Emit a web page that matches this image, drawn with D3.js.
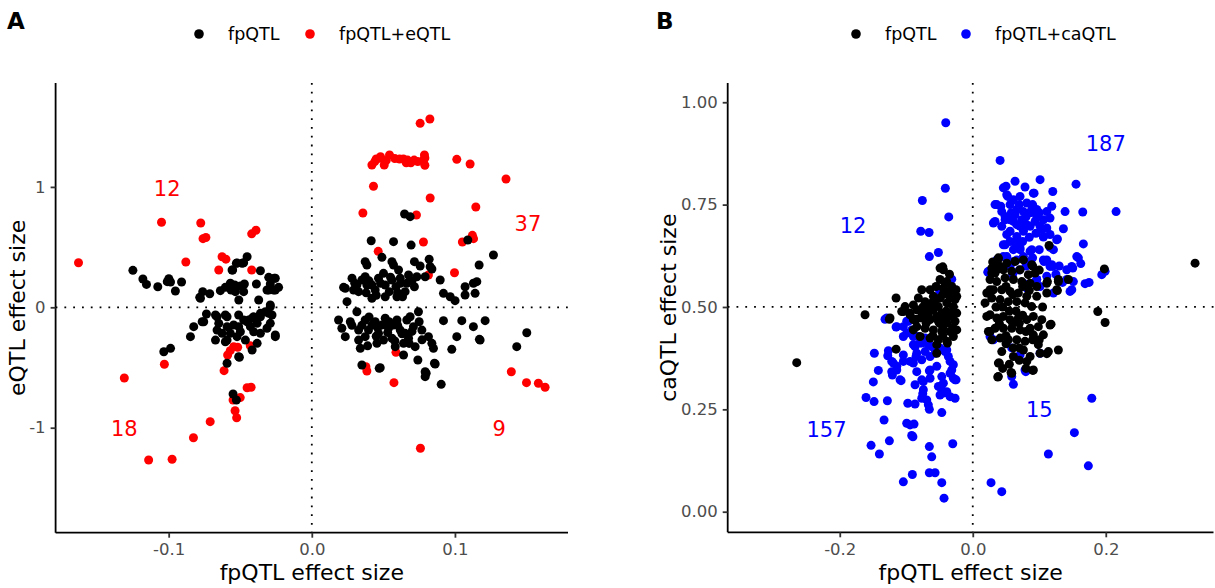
<!DOCTYPE html>
<html><head><meta charset="utf-8">
<script src="https://cdn.jsdelivr.net/npm/d3@7"></script>
<style>body{margin:0;background:#fff;font-family:"DejaVu Sans",sans-serif;}</style>
</head><body><svg id="c" width="1215" height="588"></svg>
<script>
// ---------- DATA ----------
const aTicksX = [-0.1, 0.0, 0.1];
const aTicksY = [-1, 0, 1];
const bTicksX = [-0.2, 0.0, 0.2];
const bTicksY = [0.00, 0.25, 0.50, 0.75, 1.00];

const aLegend = ["fpQTL", "fpQTL+eQTL"];
const bLegend = ["fpQTL", "fpQTL+caQTL"];

const aCounts = [["12",-0.101,0.99],["37",0.151,0.7],["18",-0.131,-1.01],["9",0.131,-1.01]];
const bCounts = [["12",-0.18,0.7],["187",0.2,0.9],["157",-0.22,0.2],["15",0.1,0.25]];

// panel A: fpQTL+eQTL (red)
const aRed = [
[-0.163,0.37],[-0.105,0.706],[-0.0776,0.70],[-0.076,0.57],[-0.074,0.58],[-0.088,0.376],[-0.0627,0.42],[-0.06,0.40],[-0.065,0.31],[-0.042,0.61],[-0.039,0.64],[-0.042,0.31],
[-0.131,-0.587],[-0.103,-0.473],[-0.114,-1.268],[-0.0976,-1.262],[-0.0827,-1.083],[-0.071,-0.95],[-0.0613,-0.526],[-0.0588,-0.396],[-0.0546,-0.327],[-0.0518,-0.332],[-0.043,-0.319],[-0.0536,-0.859],[-0.0525,-0.917],[-0.0452,-0.668],[-0.0424,-0.664],[-0.055,-0.77],[-0.057,-0.36],[-0.05,-0.75],
[0.0757,1.528],[0.0825,1.564],[0.042,1.182],[0.045,1.232],[0.0478,1.237],[0.0506,1.182],[0.0543,1.265],[0.0613,1.232],[0.064,1.232],[0.0669,1.223],[0.0692,1.20],[0.0715,1.223],[0.078,1.223],[0.0787,1.265],[0.1013,1.229],[0.1106,1.19],[0.1357,1.066],[0.0431,1.005],[0.0827,0.908],[0.1146,0.833],[0.0357,0.783],[0.0731,0.767],[0.078,0.542],[0.1052,0.542],[0.1122,0.598],[0.0464,0.465],[0.0997,0.287],[0.0815,0.268],[0.044,1.21],[0.058,1.235],[0.066,1.20],[0.074,1.21],[0.079,1.24],[0.052,1.22],[0.113,0.57],[0.079,1.18],[0.048,1.25],
[0.0588,-0.374],[0.0378,-0.493],[0.0385,-0.529],[0.0574,-0.626],[0.0759,-1.171],[0.1394,-0.535],[0.150,-0.626],[0.1583,-0.631],[0.163,-0.664]
];

// panel A: fpQTL only (black)
const aBlack = [
[-0.125,0.307],[-0.118,0.235],[-0.1155,0.19],[-0.1076,0.171],[-0.0999,0.238],[-0.0987,0.21],[-0.0953,0.135],[-0.091,0.21],[-0.0778,0.075],[-0.0762,0.13],[-0.0713,0.113],[-0.0639,0.138],[-0.0604,0.166],[-0.0564,0.144],[-0.0539,0.185],[-0.0499,0.177],[-0.0471,0.194],[-0.0476,0.13],[-0.051,0.061],[-0.0553,0.31],[-0.0522,0.368],[-0.0452,0.42],[-0.0476,0.37],[-0.0359,0.304],[-0.0301,0.249],[-0.0262,0.241],[-0.029,0.194],[-0.0232,0.166],[-0.0267,0.144],[-0.0313,0.144],[-0.0371,0.061],[-0.0387,0.194],[-0.029,0.005],[-0.0301,-0.05],[-0.0359,-0.05],[-0.0406,-0.078],[-0.0441,-0.105],[-0.0511,-0.064],[-0.0592,-0.078],[-0.0662,-0.078],[-0.0755,-0.12],[-0.0825,-0.161],
[-0.0736,-0.056],[-0.0766,-0.12],[-0.0848,-0.244],[-0.0673,-0.064],[-0.065,-0.133],[-0.0662,-0.189],[-0.0673,-0.272],[-0.0604,-0.064],[-0.0592,-0.161],[-0.0569,-0.216],[-0.0604,-0.286],[-0.0511,-0.161],[-0.0522,-0.244],[-0.0464,-0.272],[-0.0429,-0.161],[-0.0417,-0.091],[-0.0359,-0.078],[-0.0324,-0.037],[-0.0278,-0.064],[-0.029,-0.133],[-0.0313,-0.174],[-0.0359,-0.216],[-0.0255,-0.244],[-0.0382,-0.299],[-0.0417,-0.355],[-0.0511,-0.41],[-0.0592,-0.465],[-0.0476,-0.105],[-0.0546,-0.147],[-0.0627,-0.216],[-0.0499,-0.203],[-0.0406,-0.203],[-0.0382,-0.133],[-0.0452,-0.12],[-0.0592,-0.272],[-0.1034,-0.369],[-0.0987,-0.341],[-0.055,-0.72],[-0.0527,-0.77],[-0.0506,-0.415],[-0.0255,-0.23],[-0.0569,0.2],[-0.0534,0.13],[-0.0301,0.144],[-0.0255,0.144],[-0.0255,0.241],[-0.0487,0.365],[-0.0527,0.365],[-0.0557,0.31],[-0.029,0.019],[-0.0783,0.083],[-0.101,0.213],
[0.0415,0.553],[0.0571,0.545],[0.0694,0.517],[0.0373,0.379],[0.0385,0.351],[0.049,0.415],[0.056,0.379],[0.0571,0.351],[0.0606,0.31],[0.0717,0.379],[0.0757,0.343],[0.082,0.399],[0.0827,0.337],[0.109,0.559],[0.1269,0.434],[0.1169,0.351],[0.0897,0.227],[0.092,0.116],[0.0967,0.088],[0.1001,0.055],[0.1071,0.171],[0.1129,0.2],[0.1153,0.213],[0.1071,0.102],[0.1141,0.116],[0.0234,0.158],[0.0246,0.047],[0.0281,0.241],[0.0315,0.185],[0.0327,0.13],[0.035,0.227],[0.0385,0.185],[0.042,0.075],[0.0443,0.144],[0.0466,0.241],[0.0501,0.282],[0.0513,0.185],[0.0541,0.13],[0.056,0.227],[0.0588,0.171],[0.0618,0.241],[0.0634,0.088],[0.0664,0.2],[0.0676,0.268],[0.0717,0.171],[0.0734,0.254],[0.0373,0.254],[0.0292,0.144],[0.0595,0.088],[0.0513,0.088],[0.0652,0.13],[0.042,0.185],[0.0792,0.254],[0.0648,0.775],[0.0687,0.753],[0.0839,0.318],[0.0222,0.166],
[0.03,0.2],[0.04,0.22],[0.048,0.2],[0.055,0.25],[0.062,0.2],[0.07,0.22],[0.045,0.1],[0.06,0.12],[0.038,0.12],
[0.0187,-0.105],[0.021,-0.174],[0.0269,-0.12],[0.0315,-0.037],[0.0327,-0.189],[0.0327,-0.272],[0.0339,-0.341],[0.0373,-0.105],[0.0396,-0.189],[0.0443,-0.12],[0.0466,-0.216],[0.0455,-0.299],[0.0513,-0.091],[0.0536,-0.174],[0.056,-0.257],[0.0595,-0.105],[0.0618,-0.189],[0.0641,-0.299],[0.0664,-0.105],[0.0687,-0.078],[0.071,-0.161],[0.0722,-0.327],[0.0745,-0.037],[0.0769,-0.189],[0.0815,-0.244],[0.0839,-0.299],[0.085,-0.341],[0.0641,-0.396],[0.0741,-0.438],[0.0792,-0.535],[0.0792,-0.576],[0.0857,-0.465],[0.0904,-0.64],[0.035,-0.479],[0.0478,-0.502],[0.092,-0.111],[0.1013,-0.244],[0.0978,-0.349],[0.1048,-0.111],[0.1129,-0.161],[0.1211,-0.111],[0.1171,-0.266],[0.0234,-0.244],[0.042,-0.147],[0.049,-0.147],[0.0571,-0.147],[0.0652,-0.216],[0.0501,-0.272],[0.0373,-0.244],[0.0583,-0.327],[0.0676,-0.257],[0.1502,-0.211],[0.1432,-0.327],[0.1176,-0.272],[0.0862,-0.471],[0.0799,-0.548],[0.0471,-0.507],
[0.028,-0.15],[0.035,-0.15],[0.046,-0.17],[0.054,-0.12],[0.06,-0.15],[0.063,-0.22],[0.07,-0.2],[0.075,-0.12],[0.04,-0.08],[0.053,-0.21],[0.045,-0.24],[0.058,-0.28],[0.068,-0.3],[0.077,-0.27],[0.039,-0.32]
];

// panel B: fpQTL+caQTL (blue)
const bBlue = [
[-0.0406,0.95],[-0.0412,0.79],[-0.0758,0.76],[-0.0361,0.72],[-0.0782,0.685],[-0.0657,0.682],[-0.0653,0.623],[-0.0517,0.633],[-0.0316,0.568],[-0.04,0.56],[-0.03,0.53],[-0.05,0.54],
[-0.1319,0.47],[-0.148,0.387],[-0.142,0.345],[-0.1495,0.317],[-0.1605,0.279],[-0.1484,0.269],[-0.1284,0.271],[-0.1334,0.224],[-0.1529,0.162],[-0.1404,0.141],[-0.1254,0.173],[-0.1269,0.393],[-0.1278,0.381],[-0.1218,0.367],[-0.1143,0.355],[-0.1209,0.334],[-0.1078,0.32],[-0.1153,0.451],[-0.1044,0.383],[-0.0977,0.265],[-0.0868,0.263],[-0.0868,0.31],[-0.0993,0.216],[-0.0943,0.212],[-0.0883,0.214],[-0.0918,0.186],[-0.1044,0.073],[-0.0908,0.091],[-0.0653,0.095],[-0.0567,0.095],[-0.0466,0.071],[-0.0432,0.033],[-0.0301,0.166],[-0.0466,0.242],[-0.0752,0.288],[-0.0692,0.273],[-0.0653,0.25],[-0.0743,0.318],[-0.0642,0.326],[-0.0653,0.344],[-0.0442,0.29],[-0.0391,0.293],[-0.0266,0.277],[-0.0292,0.326],[-0.0251,0.322],[-0.0341,0.338],[-0.0341,0.367],[-0.0292,0.359],[-0.0316,0.346],[-0.0517,0.306],[-0.0466,0.298],[-0.0492,0.285],[-0.0853,0.379],[-0.0767,0.371],[-0.0943,0.367],[-0.1044,0.367],[-0.0893,0.408],[-0.0792,0.412],[-0.0668,0.408],[-0.0717,0.391],[-0.0592,0.403],[-0.0517,0.395],[-0.0417,0.391],[-0.0367,0.379],[-0.0993,0.436],[-0.0918,0.444],[-0.1044,0.452],[-0.0993,0.465],[-0.0827,0.428],[-0.0717,0.424],[-0.0653,0.159],[-0.0617,0.134],[-0.1293,0.473],[-0.1143,0.452],[-0.0968,0.465],[-0.1194,0.363],[-0.1218,0.342],[-0.1093,0.322],[-0.1143,0.346],[-0.0842,0.387],[-0.0893,0.363],[-0.0842,0.342],[-0.0767,0.322],[-0.0743,0.298],[-0.0767,0.277],[-0.0668,0.261],[-0.0642,0.346],[-0.0541,0.355],[-0.0466,0.33],[-0.0442,0.314],[-0.0341,0.281],[-0.0266,0.322],[-0.0391,0.395],[-0.0492,0.4],[-0.0567,0.387],[-0.0642,0.379],[-0.0868,0.403],[-0.1044,0.428],[-0.0893,0.428],[-0.0767,0.412],[-0.0617,0.403],[-0.09,0.183],
[0.0411,0.858],[0.0636,0.807],[0.046,0.791],[0.05,0.795],[0.0526,0.77],[0.0786,0.793],[0.0922,0.778],[0.1012,0.811],[0.1203,0.782],[0.1553,0.8],[0.2155,0.733],[0.1388,0.733],[0.1654,0.732],[0.0335,0.75],[0.0421,0.746],[0.031,0.705],[0.0436,0.697],[0.0611,0.762],[0.0711,0.77],[0.0812,0.754],[0.0962,0.738],[0.1113,0.733],[0.1188,0.746],[0.1162,0.717],[0.1062,0.713],[0.0962,0.721],[0.0862,0.73],[0.0761,0.733],[0.0636,0.725],[0.0561,0.713],[0.0662,0.701],[0.0761,0.689],[0.0862,0.697],[0.1012,0.697],[0.1113,0.693],[0.1162,0.677],[0.1062,0.672],[0.0662,0.672],[0.0561,0.685],[0.0486,0.721],[0.0737,0.713],[0.1363,0.691],[0.1273,0.666],[0.1663,0.654],[0.1213,0.64],[0.1188,0.603],[0.1113,0.615],[0.046,0.652],[0.0662,0.664],[0.0711,0.64],[0.0862,0.636],[0.0511,0.623],[0.0611,0.611],[0.1588,0.62],[0.1624,0.606],[0.1504,0.595],[0.1413,0.591],[0.194,0.579],[0.199,0.587],[0.1689,0.557],[0.1749,0.56],[0.1513,0.562],[0.1463,0.538],[0.1413,0.567],[0.0226,0.585],[0.1072,0.611],[0.1113,0.575],[0.1203,0.599],[0.1012,0.55],[0.0962,0.567],
[0.0511,0.774],[0.0911,0.778],[0.0887,0.738],[0.0662,0.738],[0.0561,0.75],[0.0361,0.75],[0.0436,0.733],[0.0335,0.709],[0.0486,0.713],[0.0611,0.709],[0.0711,0.697],[0.0812,0.701],[0.0937,0.709],[0.1262,0.664],[0.1062,0.671],[0.1162,0.646],[0.0887,0.64],[0.0711,0.644],[0.0611,0.64],[0.0486,0.652],[0.0511,0.677],[0.0762,0.685],[0.0361,0.615],[0.0235,0.587],[0.046,0.623],[0.1062,0.615],[0.1162,0.599],[0.1489,0.599],[0.1564,0.623],[0.1489,0.542],[0.1213,0.534],[0.0662,0.615],[0.0761,0.623],[0.0862,0.611],[0.0561,0.599],[0.0761,0.558],[0.0962,0.567],[0.0812,0.546],
[0.07,0.75],[0.08,0.72],[0.09,0.75],[0.1,0.73],[0.058,0.73],[0.075,0.66],[0.095,0.68],[0.085,0.67],[0.065,0.65],[0.056,0.66],[0.105,0.69],[0.09,0.62],[0.1,0.64],[0.08,0.6],[0.07,0.59],[0.06,0.58],[0.13,0.6],[0.125,0.58],[0.135,0.56],
[0.179,0.277],[0.1528,0.193],[0.1137,0.141],[0.1738,0.112],[0.0275,0.071],[0.0436,0.049],[0.0611,0.311],[0.0797,0.342],[0.0711,0.383],[0.026,0.428],[0.031,0.42],[0.0586,0.4],[0.1012,0.387],[0.0586,0.33],[0.0786,0.346]
];

// panel B: fpQTL only (black)
const bBlack = [
[-0.162,0.481],[-0.1244,0.473],[-0.1153,0.522],[-0.1153,0.397],[-0.1068,0.489],[-0.0541,0.387],[-0.0492,0.595],[-0.0451,0.598],[-0.0492,0.567],[-0.0391,0.562],[-0.0316,0.55],[-0.0251,0.542],[-0.0241,0.526],[-0.0341,0.522],[-0.0442,0.546],[-0.0552,0.55],[-0.0642,0.542],[-0.0767,0.542],[-0.0818,0.522],[-0.0717,0.513],[-0.0592,0.526],[-0.0492,0.522],[-0.0391,0.51],[-0.0292,0.501],[-0.0241,0.485],[-0.0341,0.477],[-0.0466,0.485],[-0.0592,0.493],[-0.0692,0.497],[-0.0842,0.493],[-0.0943,0.485],[-0.0893,0.469],[-0.0767,0.473],[-0.0642,0.469],[-0.0517,0.465],[-0.0391,0.461],[-0.0266,0.465],[-0.0241,0.444],[-0.0341,0.44],[-0.0466,0.44],[-0.0592,0.444],[-0.0717,0.448],[-0.0842,0.452],[-0.0893,0.444],[-0.0792,0.428],[-0.0642,0.424],[-0.0517,0.42],[-0.0391,0.416],[-0.0292,0.428],[-0.0541,0.408],[-0.0381,0.412],[-0.0517,0.501],[-0.0617,0.51],[-0.0292,0.534],[-0.0367,0.538],[-0.0417,0.558],[-0.0767,0.485],[-0.0668,0.481],[-0.0541,0.477],[-0.0417,0.473],[-0.0893,0.505],[-0.1018,0.501],[-0.0442,0.591],[-0.0266,0.518],[-0.2647,0.364],[-0.1254,0.47],[-0.1044,0.489],[-0.0943,0.481],
[-0.035,0.58],[-0.045,0.53],[-0.055,0.52],[-0.065,0.5],[-0.075,0.5],[-0.085,0.47],[-0.07,0.46],[-0.045,0.45],[-0.03,0.45],[-0.03,0.49],[-0.04,0.49],[-0.05,0.46],[-0.06,0.43],[-0.045,0.43],
[0.0385,0.617],[0.0511,0.607],[0.0636,0.611],[0.0761,0.615],[0.0887,0.603],[0.0937,0.583],[0.0836,0.579],[0.0711,0.591],[0.0586,0.587],[0.046,0.591],[0.0361,0.591],[0.0286,0.583],[0.026,0.567],[0.0361,0.562],[0.0486,0.571],[0.0611,0.567],[0.0737,0.562],[0.0862,0.558],[0.0962,0.55],[0.1113,0.558],[0.1287,0.562],[0.1438,0.567],[0.1263,0.542],[0.1113,0.534],[0.0962,0.526],[0.0812,0.526],[0.0686,0.534],[0.0561,0.538],[0.0436,0.542],[0.031,0.542],[0.0211,0.534],[0.0286,0.522],[0.0411,0.518],[0.0535,0.513],[0.0662,0.513],[0.0786,0.51],[0.0887,0.501],[0.0185,0.51],[0.026,0.481],[0.0361,0.473],[0.046,0.477],[0.0561,0.469],[0.0686,0.473],[0.0812,0.469],[0.0911,0.477],[0.1038,0.469],[0.1162,0.456],[0.0986,0.452],[0.0862,0.448],[0.0711,0.444],[0.0586,0.448],[0.046,0.448],[0.0335,0.448],[0.0235,0.44],[0.0286,0.42],[0.0411,0.424],[0.0535,0.42],[0.0662,0.42],[0.0786,0.416],[0.0911,0.432],[0.0986,0.408],[0.1062,0.432],[0.0436,0.391],[0.0611,0.4],[0.0761,0.395],[0.0862,0.379],[0.1012,0.387],[0.1137,0.391],[0.1287,0.395],[0.0385,0.363],[0.0611,0.379],[0.0812,0.367],[0.0911,0.346],[0.0586,0.338],[0.0385,0.33],
[0.1147,0.65],[0.188,0.489],[0.199,0.462],[0.1177,0.458],[0.0902,0.345],[0.0376,0.329],[0.0576,0.34],[0.04,0.363],[0.1113,0.386],[0.0211,0.477],[0.026,0.44],[0.3343,0.607],[0.1979,0.593],[0.1287,0.567],[0.1273,0.54],[0.1122,0.562],[0.0385,0.62],[0.0286,0.595],[0.0335,0.583],[0.026,0.542],
[0.05,0.55],[0.06,0.53],[0.075,0.55],[0.085,0.54],[0.045,0.5],[0.055,0.49],[0.065,0.49],[0.075,0.48],[0.035,0.5],[0.04,0.46],[0.05,0.43],[0.06,0.46],[0.07,0.46],[0.08,0.44],[0.09,0.42],[0.07,0.4],[0.05,0.41],[0.055,0.36],[0.045,0.35],[0.07,0.37],[0.08,0.35],[0.1,0.42],[0.105,0.5],[0.1,0.59],[0.09,0.6],[0.04,0.6],[0.03,0.61]
];

// ---------- DRAW ----------
const svg = d3.select("#c");
svg.append("rect").attr("width",1215).attr("height",588).attr("fill","#fff");
const FONT = "DejaVu Sans";
const hy = f => (d => f(d).replace("\u2212","-"));

function panel(cfg){
  const g = svg.append("g");
  const x = d3.scaleLinear().domain(cfg.xd).range([cfg.left, cfg.right]);
  const y = d3.scaleLinear().domain(cfg.yd).range([cfg.bottom, cfg.top]);
  g.append("line").attr("x1",x(0)).attr("x2",x(0)).attr("y1",cfg.top).attr("y2",cfg.bottom)
    .attr("stroke","#000").attr("stroke-width",1.8).attr("stroke-dasharray","1.8,7");
  g.append("line").attr("x1",cfg.left).attr("x2",cfg.right).attr("y1",y(cfg.href)).attr("y2",y(cfg.href))
    .attr("stroke","#000").attr("stroke-width",1.8).attr("stroke-dasharray","1.8,7");
  g.append("g").selectAll("circle").data(cfg.col).join("circle")
    .attr("cx",d=>x(d[0])).attr("cy",d=>y(d[1])).attr("r",4.5).attr("fill",cfg.color);
  g.append("g").selectAll("circle").data(cfg.blk).join("circle")
    .attr("cx",d=>x(d[0])).attr("cy",d=>y(d[1])).attr("r",4.5).attr("fill","#000");
  const xa = g.append("g").attr("transform",`translate(0,${cfg.bottom})`)
    .call(d3.axisBottom(x).tickValues(cfg.xt).tickSize(5).tickPadding(6).tickFormat(hy(cfg.xf)));
  const ya = g.append("g").attr("transform",`translate(${cfg.left},0)`)
    .call(d3.axisLeft(y).tickValues(cfg.yt).tickSize(5).tickPadding(5).tickFormat(hy(cfg.yf)));
  [xa,ya].forEach(a=>{
    a.select(".domain").attr("stroke","#000").attr("stroke-width",1.8);
    a.selectAll(".tick line").attr("stroke","#333").attr("stroke-width",1.8);
    a.selectAll(".tick text").attr("fill","#4d4d4d").attr("font-family",FONT).attr("font-size",16.5);
  });
  xa.select(".domain").attr("d",`M${cfg.left},0H${cfg.right}`);
  ya.select(".domain").attr("d",`M0,${cfg.bottom}V${cfg.top}`);
  g.append("text").attr("x",(cfg.left+cfg.right)/2).attr("y",580).attr("text-anchor","middle")
    .attr("font-family",FONT).attr("font-size",22).attr("fill","#000").text("fpQTL effect size");
  g.append("text").attr("transform",`translate(${cfg.ytx},${(cfg.top+cfg.bottom)/2}) rotate(-90)`)
    .attr("text-anchor","middle").attr("font-family",FONT).attr("font-size",22).attr("fill","#000").text(cfg.ytitle);
  g.selectAll("text.cnt").data(cfg.counts).join("text").attr("class","cnt")
    .attr("x",d=>x(d[1])).attr("y",d=>y(d[2])).attr("dy","0.36em").attr("text-anchor","middle")
    .attr("font-family",FONT).attr("font-size",21).attr("fill",cfg.color).text(d=>d[0]);
  const lg = g.append("g");
  cfg.legend.forEach((t,i)=>{
    lg.append("circle").attr("cx",cfg.legX[i]).attr("cy",34).attr("r",4.8).attr("fill",i===0?"#000":cfg.color);
    lg.append("text").attr("x",cfg.legX[i]+29).attr("y",34).attr("dy","0.36em")
      .attr("font-family",FONT).attr("font-size",17.5).attr("fill","#000").text(t);
  });
  g.append("text").attr("x",cfg.tagX).attr("y",29).attr("font-family",FONT).attr("font-weight","bold")
    .attr("font-size",23).attr("fill","#000").text(cfg.tag);
}

panel({left:55.6,right:568,top:83,bottom:532.7,xd:[-0.179,0.179],yd:[-1.872,1.863],href:0,
  col:aRed,blk:aBlack,color:"#ff0000",xt:aTicksX,yt:aTicksY,xf:d3.format(".1f"),yf:d3.format("d"),
  ytitle:"eQTL effect size",ytx:25,counts:aCounts,legend:aLegend,legX:[199,310],tag:"A",tagX:7});

panel({left:727.7,right:1213.5,top:83,bottom:532.3,xd:[-0.3685,0.362],yd:[-0.0503,1.047],href:0.5,
  col:bBlue,blk:bBlack,color:"#0000ff",xt:bTicksX,yt:bTicksY,xf:d3.format(".1f"),yf:d3.format(".2f"),
  ytitle:"caQTL effect size",ytx:676,counts:bCounts,legend:bLegend,legX:[856,966],tag:"B",tagX:656});
</script></body></html>
